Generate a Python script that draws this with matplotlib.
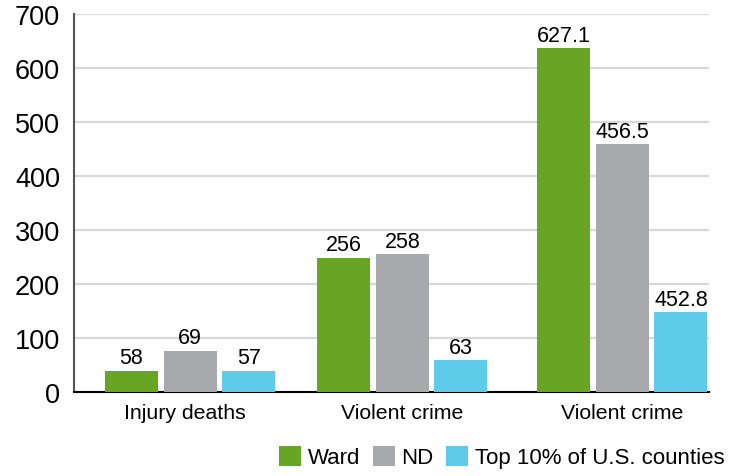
import matplotlib.pyplot as plt
import matplotlib.patches as mpatches
import numpy as np

plt.rcParams['font.family'] = ['Liberation Sans', 'DejaVu Sans']

# Данные
categories = ['Injury deaths', 'Violent crime', 'Violent crime']
series = ['Ward', 'ND', 'Top 10% of U.S. counties']
# высоты столбцов (как нарисованы)
ward_vals = [40, 249, 636]
nd_vals = [77, 256, 459]
top_vals = [40, 60, 148]
# подписи над столбцами
ward_labels = ['58', '256', '627.1']
nd_labels = ['69', '258', '456.5']
top_labels = ['57', '63', '452.8']

colors = ['#68A524', '#A8A9AC', '#5ECBE8']

fig = plt.figure(figsize=(7.43, 4.77), dpi=100)
ax = fig.add_axes([0.0996, 0.1755, 0.8544, 0.7935])

group_x = np.array([0, 4.0, 8.15])
step = 1.105
width = 1.0

all_vals = [ward_vals, nd_vals, top_vals]
all_labels = [ward_labels, nd_labels, top_labels]
for i, (vals, labs) in enumerate(zip(all_vals, all_labels)):
    xs = group_x + (i - 1) * step
    ax.bar(xs, vals, width=width, color=colors[i], zorder=3)
    for x, v, t in zip(xs, vals, labs):
        ax.text(x, v + 4, t, ha='center', va='bottom', fontsize=15.5, zorder=4)

ax.set_ylim(0, 700)
ax.set_yticks(range(0, 701, 100))
ax.set_xlim(group_x[0] - 2.19, group_x[2] + 1.63)
ax.grid(True, axis='y', color='#D9D9D9', linewidth=1.6, zorder=0)
ax.set_axisbelow(True)

ax.set_xticks(group_x + np.array([-0.1, 0, 0]))
ax.set_xticklabels(categories, fontsize=15.3)
ax.tick_params(axis='x', length=0, pad=8)
ax.tick_params(axis='y', length=0, pad=10, labelsize=19.5)

for s in ['top', 'right']:
    ax.spines[s].set_visible(False)
ax.spines['left'].set_color('#555555')
ax.spines['left'].set_linewidth(1.5)
ax.spines['bottom'].set_color('black')
ax.spines['bottom'].set_linewidth(1.5)

handles = [mpatches.Patch(facecolor=c, label=s) for c, s in zip(colors, series)]
fig.legend(handles=handles, loc='center right', bbox_to_anchor=(0.99, 0.04),
           ncol=3, frameon=False, fontsize=16, handlelength=1.0, handleheight=1.0,
           handletextpad=0.3, columnspacing=0.55, borderpad=0)

fig.savefig('out.png', dpi=100)
